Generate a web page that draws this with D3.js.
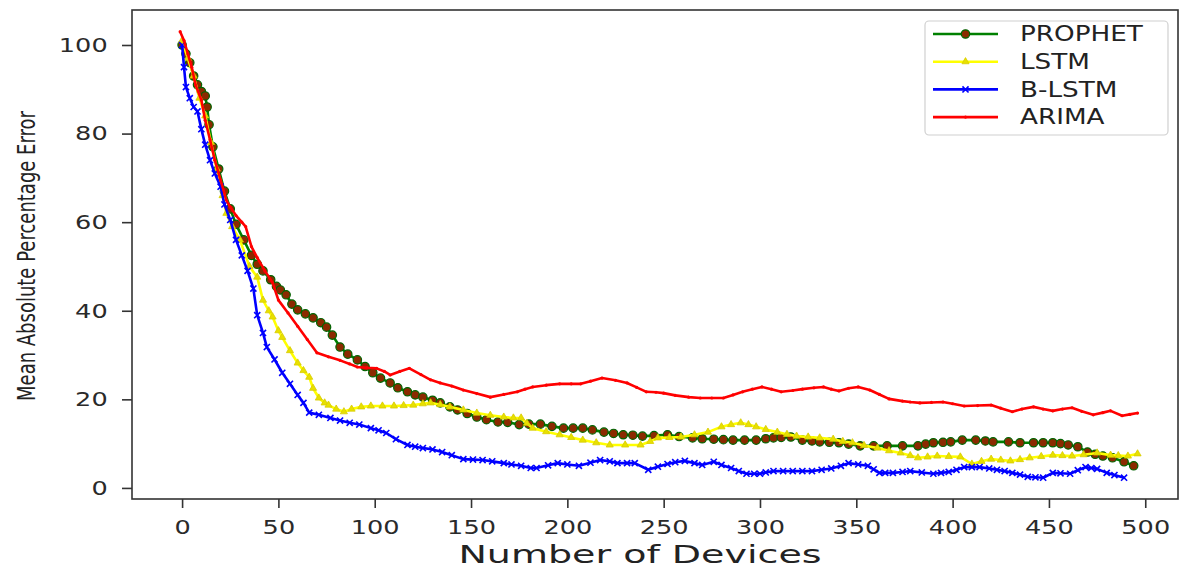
<!DOCTYPE html>
<html><head><meta charset="utf-8">
<script src="https://cdn.jsdelivr.net/npm/d3@7/dist/d3.min.js"></script>
<style>
html,body{margin:0;padding:0;background:#fff;}
svg{display:block;font-family:"DejaVu Sans",sans-serif;}
</style></head>
<body><svg id="c" width="1182" height="569"></svg>
<script>
const seriesNames = ["PROPHET","LSTM","B-LSTM","ARIMA"];
const xTicks = [0,50,100,150,200,250,300,350,400,450,500];
const yTicks = [0,20,40,60,80,100];
const xLabel = "Number of Devices";
const yLabel = "Mean Absolute Percentage Error";

const prophetData = [[0,100],[2,98],[4,96],[6,93],[8,91],[10,89.5],[12,88.5],[13,86],[14,82],[16,77],[19,72],[22,67],[25,63],[28,59.5],[32,56],[36,52.5],[39,50.5],[42,49],[46,47],[49,45.5],[51,44.7],[54,43.6],[57,41.5],[60,40.2],[64,39.3],[68,38.4],[72,37.3],[75,36.3],[78,34.5],[82,31.8],[86,30.2],[91,28.9],[95,27.4],[99,26],[103,24.8],[108,23.7],[112,22.6],[117,21.7],[121,21],[125,20.5],[130,19.8],[134,19.2],[139,18.3],[143,17.6],[148,16.8],[153,16],[158,15.4],[164,14.9],[169,14.8],[175,14.3],[180,14.4],[186,14.4],[192,13.9],[198,13.5],[203,13.5],[208,13.5],[213,13.1],[219,12.6],[224,12.3],[229,12],[234,11.9],[239,11.7],[245,11.8],[252,12],[258,11.6],[265,11.3],[270,11.1],[276,11],[281,10.9],[286,10.8],[292,10.8],[298,10.8],[303,11.1],[307,11.3],[311,11.4],[316,11.5],[322,10.8],[327,10.6],[331,10.4],[336,10.3],[341,10.2],[346,9.9],[352,9.5],[359,9.5],[366,9.5],[374,9.5],[382,9.5],[386,9.9],[390,10.2],[395,10.3],[399,10.4],[405,10.8],[412,10.8],[417,10.6],[421,10.4],[429,10.4],[435,10.2],[442,10.2],[447,10.2],[452,10.2],[456,10],[460,9.7],[465,9.3],[470,8.1],[474,7.6],[478,7.2],[483,6.8],[489,5.9],[494,5]];

const lstmData = [[0,101],[3,97],[6,93],[9,88],[12,84],[15,78],[18,72],[21,66],[23,62],[26,59],[30,56],[35,50],[39,47.6],[42,42.4],[45,40],[47,38.6],[50,35.5],[52,34],[56,31],[60,28.2],[63,26.5],[66,25],[68,22.5],[71,20.3],[74,19.2],[76,18.7],[80,17.8],[84,17.2],[88,17.8],[93,18.3],[98,18.5],[104,18.5],[110,18.5],[115,18.6],[120,18.7],[125,19],[129,19.2],[134,18.8],[139,18.3],[146,17.6],[153,16.9],[160,16.4],[167,16],[172,15.8],[176,15.8],[179,14.6],[182,13.5],[189,12.7],[196,12],[202,11.4],[208,10.8],[215,10.2],[222,9.7],[230,9.7],[238,9.7],[243,10.5],[247,11.3],[253,11.4],[259,11.5],[266,12],[273,12.6],[280,13.8],[285,14.3],[290,14.7],[294,14.3],[298,13.8],[303,13.2],[309,12.6],[314,12.1],[319,11.7],[325,11.5],[331,11.3],[338,11],[343,10.5],[348,10.2],[354,9.6],[361,9],[367,8.4],[373,7.9],[378,7.3],[382,6.8],[387,7],[392,7.2],[398,7.1],[404,7],[410,5.4],[415,6],[420,6.5],[425,6.3],[430,6.1],[435,6.4],[440,6.8],[446,7.1],[452,7.4],[457,7.3],[462,7.2],[468,7.5],[475,7.9],[482,7.4],[486,7.3],[491,7.2],[496,7.7]];

const blstmData = [[0,100],[1,95],[2,90.5],[4,88],[6,86],[8,85],[10,81],[12,77.5],[14.5,74],[17,71],[20,68],[22,64],[25,60.5],[28,56],[31,52.5],[34,49],[37,45],[39,39],[42,35],[44,31.8],[48,29],[52,26],[56,23.5],[60,21],[63,19.2],[66,17],[71,16.5],[77,15.8],[82,15.2],[87,14.7],[92,14.3],[98,13.5],[102,13],[106,12.4],[111,11],[117,9.7],[121,9.3],[125,9],[130,8.7],[135,8.1],[140,7.4],[146,6.5],[151,6.4],[156,6.3],[161,6],[167,5.6],[171,5.3],[176,5],[181,4.5],[184,4.5],[190,5.1],[195,5.6],[200,5.3],[206,5],[212,5.7],[217,6.3],[222,6],[226,5.6],[231,5.6],[235,5.6],[242,4.1],[247,4.8],[252,5.4],[256,5.8],[261,6.1],[266,5.6],[270,5.2],[276,5.9],[280,5.2],[285,4.5],[289,3.8],[293,3.2],[297,3.2],[300,3.2],[303,3.5],[307,3.8],[312,3.8],[317,3.8],[322,3.8],[327,3.8],[332,4.1],[337,4.4],[342,5],[346,5.6],[351,5.3],[356,5],[359,4.2],[362,3.4],[365,3.4],[369,3.4],[374,3.6],[378,3.8],[384,3.5],[390,3.2],[394,3.4],[398,3.6],[402,4.1],[406,4.7],[410,4.7],[414,4.7],[419,4.4],[423,4.1],[427,3.8],[431,3.4],[435,3],[439,2.5],[443,2.4],[447,2.3],[452,3.4],[456,3.3],[461,3.2],[465,4],[469,4.7],[472,4.5],[475,4.3],[480,3.4],[484,2.9],[489,2.3]];

const arimaData = [[-1,103],[1,101],[3,98],[5,95],[7,91],[10,87.6],[12,83],[14.5,78.6],[17,74],[20,69.5],[23,65],[25,63.4],[28,61.5],[31,60],[33,59],[36,54.5],[39,52],[43,49],[47,46.3],[50,42.4],[55,39.5],[60,36.5],[65,33.5],[70,30.5],[76,29.6],[82,28.8],[87,28],[91,27.3],[96,27.1],[101,27],[105,26.3],[108,25.5],[113,26.3],[118,27],[124,25.6],[129,24.4],[134,23.7],[140,23],[146,22.1],[153,21.3],[160,20.5],[167,21.1],[174,21.7],[178,22.3],[182,22.8],[189,23.2],[196,23.5],[202,23.5],[207,23.5],[212,24.1],[218,24.8],[225,24.3],[231,23.7],[236,22.7],[241,21.7],[246,21.6],[250,21.4],[256,20.9],[263,20.5],[269,20.3],[275,20.3],[281,20.3],[286,21],[291,21.7],[296,22.3],[301,22.8],[306,22.3],[311,21.7],[317,22],[322,22.3],[328,22.6],[333,22.8],[337,22.3],[341,21.9],[346,22.5],[351,22.8],[357,22.1],[362,21.1],[367,20.1],[374,19.6],[378,19.4],[383,19.2],[389,19.3],[395,19.4],[400,19],[406,18.5],[413,18.6],[420,18.7],[425,18],[431,17.2],[436,17.8],[442,18.3],[447,17.8],[452,17.4],[457,17.8],[462,18.1],[467,17.3],[473,16.5],[478,17],[482,17.4],[488,16.3],[492,16.6],[496,16.9]];

const SX = 1.28; // horizontal text stretch seen in the reference
const mLeft = 132, mRight = 1178, mTop = 10, mBottom = 499;
const svg = d3.select("#c");
const x = d3.scaleLinear().domain([-26, 517]).range([mLeft, mRight]);
const y = d3.scaleLinear().domain([-2.5, 107.9]).range([mBottom, mTop]);

const series = [
  {name: seriesNames[0], data: prophetData, color: "#008000", marker: "circle"},
  {name: seriesNames[1], data: lstmData, color: "#ffff00", marker: "tri"},
  {name: seriesNames[2], data: blstmData, color: "#0000ff", marker: "x"},
  {name: seriesNames[3], data: arimaData, color: "#ff0000", marker: "dot"}
];

function drawMarker(g, type, color, cx, cy) {
  if (type === "circle") {
    g.append("circle").attr("cx", cx).attr("cy", cy).attr("r", 4.2)
      .attr("fill", "#8b2a00").attr("stroke", "#006400").attr("stroke-width", 1.2);
  } else if (type === "tri") {
    g.append("path").attr("transform", `translate(${cx},${cy})`)
      .attr("d", d3.symbol(d3.symbolTriangle, 22)()).attr("fill", "#e8e000").attr("stroke", "#d8cc00").attr("stroke-width", 0.8);
  } else if (type === "x") {
    g.append("path").attr("transform", `translate(${cx},${cy})`)
      .attr("d", d3.symbol(d3.symbolTimes, 26)()).attr("fill", "none").attr("stroke", color).attr("stroke-width", 1.6);
  } else {
    g.append("circle").attr("cx", cx).attr("cy", cy).attr("r", 1.6).attr("fill", color);
  }
}

svg.append("clipPath").attr("id", "pc").append("rect")
  .attr("x", mLeft).attr("y", mTop).attr("width", mRight - mLeft).attr("height", mBottom - mTop);
const plot = svg.append("g").attr("clip-path", "url(#pc)");
const line = d3.line().x(d => x(d[0])).y(d => y(d[1]));
series.forEach(s => {
  const g = plot.append("g");
  g.append("path").datum(s.data).attr("d", line).attr("fill", "none")
    .attr("stroke", s.color).attr("stroke-width", 2.6).attr("stroke-linejoin", "round");
  s.data.forEach(d => drawMarker(g, s.marker, s.color, x(d[0]), y(d[1])));
});

// frame
svg.append("rect").attr("x", mLeft).attr("y", mTop).attr("width", mRight - mLeft).attr("height", mBottom - mTop)
  .attr("fill", "none").attr("stroke", "#333").attr("stroke-width", 1.6);

// axes
const xAxis = svg.append("g").attr("transform", `translate(0,${mBottom})`)
  .call(d3.axisBottom(x).tickValues(xTicks).tickSize(9).tickPadding(12).tickSizeOuter(0));
const yAxis = svg.append("g").attr("transform", `translate(${mLeft},0)`)
  .call(d3.axisLeft(y).tickValues(yTicks).tickSize(10).tickPadding(9).tickSizeOuter(0));
[xAxis, yAxis].forEach(a => {
  a.select(".domain").remove();
  a.selectAll(".tick line").attr("stroke", "#333").attr("stroke-width", 1.6);
  a.selectAll(".tick text").attr("fill", "#2a2a2a").style("font-size", "20px")
    .style("font-family", "DejaVu Sans").attr("transform", `scale(${SX},1)`);
});

// axis labels
svg.append("text").attr("transform", `translate(640,563) scale(1.52,1)`)
  .attr("text-anchor", "middle").style("font-size", "25px").attr("fill", "#222").text(xLabel);
svg.append("text").attr("transform", `translate(35,256) rotate(-90) scale(1,${1.35})`)
  .attr("text-anchor", "middle").style("font-size", "18px").attr("fill", "#222").text(yLabel);

// legend
const lg = svg.append("g");
lg.append("rect").attr("x", 925).attr("y", 21).attr("width", 243).attr("height", 114)
  .attr("rx", 4).attr("fill", "#fff").attr("fill-opacity", 0.85).attr("stroke", "#d0d0d0").attr("stroke-width", 1.2);
series.forEach((s, i) => {
  const yy = 34 + i * 27.7;
  lg.append("line").attr("x1", 933).attr("x2", 998).attr("y1", yy).attr("y2", yy)
    .attr("stroke", s.color).attr("stroke-width", 2.6);
  drawMarker(lg, s.marker, s.color, 965.5, yy);
  lg.append("text").attr("transform", `translate(1020,${yy}) scale(${SX},1)`).attr("dy", "0.36em")
    .style("font-size", "20.5px").attr("fill", "#222").text(s.name);
});
</script></body></html>
